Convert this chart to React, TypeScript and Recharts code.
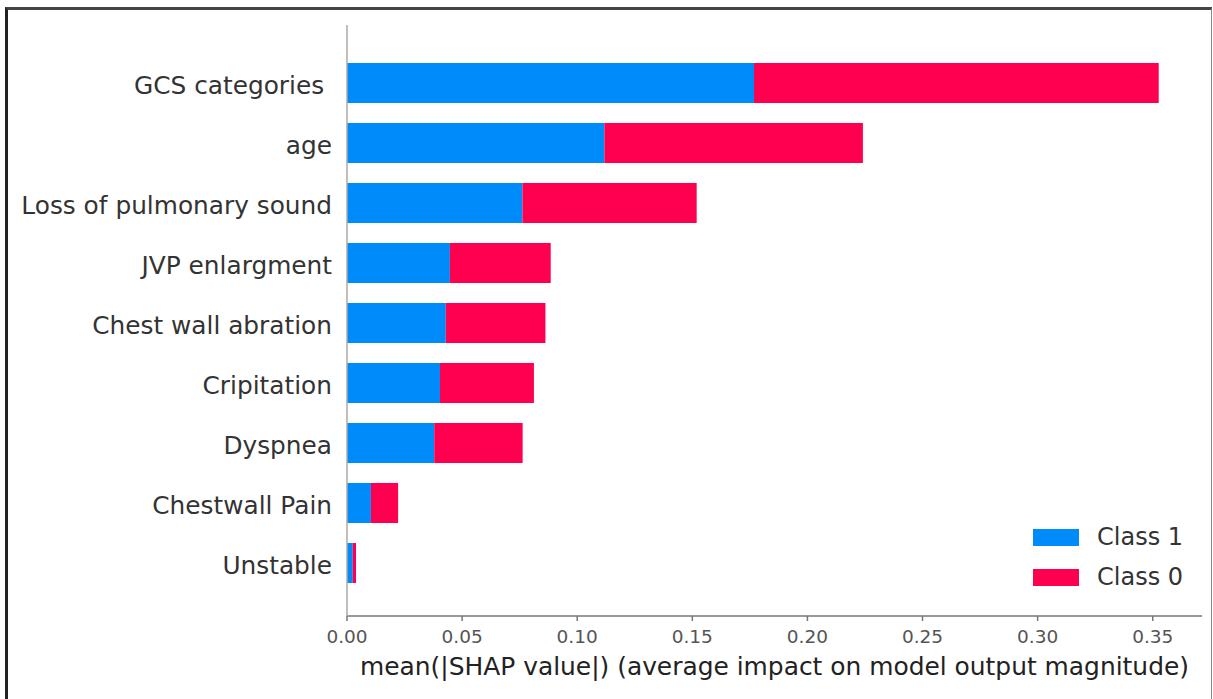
import React from "react";
import { BarChart, Bar, XAxis, YAxis, Legend } from "recharts";

const features = [
  "GCS categories ",
  "age",
  "Loss of pulmonary sound",
  "JVP enlargment",
  "Chest wall abration",
  "Cripitation",
  "Dyspnea",
  "Chestwall Pain",
  "Unstable",
];
const class1 = [0.1768, 0.1118, 0.0762, 0.0447, 0.0429, 0.0404, 0.0379, 0.0104, 0.0025];
const class0 = [0.1758, 0.1123, 0.0757, 0.0438, 0.0433, 0.0408, 0.0384, 0.0118, 0.0014];
const xTicks = [0, 0.05, 0.1, 0.15, 0.2, 0.25, 0.3, 0.35];
const xLabel = "mean(|SHAP value|) (average impact on model output magnitude)";
const legendOrder = ["c1", "c0"];

const data = features.map((f, i) => ({ feature: f, c1: class1[i], c0: class0[i] }));

const FONT = "'DejaVu Sans', sans-serif";

const YTick = (props: any) => {
  const { x, y, payload } = props;
  return (
    <text
      x={x}
      y={y}
      dy={11}
      textAnchor="end"
      fill="#333"
      fontSize={24.8}
      fontFamily={FONT}
      style={{ whiteSpace: "pre" }}
    >
      {payload.value}
    </text>
  );
};

const LegendContent = (props: any) => {
  const payload = [...(props.payload || [])].sort(
    (a: any, b: any) => legendOrder.indexOf(a.dataKey) - legendOrder.indexOf(b.dataKey)
  );
  return (
    <div style={{ fontFamily: FONT }}>
      {payload.map((p: any) => (
        <div key={p.value} style={{ display: "flex", alignItems: "center", height: 40 }}>
          <div style={{ width: 46, height: 17, background: p.color, marginRight: 18 }} />
          <span style={{ fontSize: 24, color: "#333", lineHeight: "40px" }}>{p.value}</span>
        </div>
      ))}
    </div>
  );
};

export default function App() {
  return (
    <div
      style={{
        position: "fixed",
        left: 0,
        top: 0,
        width: 1213,
        height: 699,
        overflow: "hidden",
        background: "#fff",
      }}
    >
      <div
        style={{
          position: "absolute",
          left: 5,
          top: 7,
          width: 1207,
          height: 720,
          boxSizing: "border-box",
          borderLeft: "3px solid #222",
          borderTop: "3px solid #444",
          borderRight: "1px solid #888",
        }}
      />
      <div style={{ position: "absolute", left: 0, top: 0 }}>
        <BarChart
          layout="vertical"
          width={1213}
          height={699}
          data={data}
          margin={{ top: 25, right: 11, left: 0, bottom: 0 }}
          barSize={40}
        >
          <XAxis
            type="number"
            domain={[0, 0.3714]}
            ticks={xTicks}
            allowDataOverflow
            tickFormatter={(v: number) => v.toFixed(2)}
            height={83}
            stroke="#777"
            strokeWidth={1.5}
            tickSize={5}
            tickMargin={9}
            tick={{ fontSize: 18.5, fill: "#555", fontFamily: FONT }}
            label={{
              value: xLabel,
              position: "insideBottom",
              offset: 24,
              fontSize: 24.9,
              fill: "#222",
              fontFamily: FONT,
            }}
          />
          <YAxis
            type="category"
            dataKey="feature"
            width={347}
            tickLine={false}
            axisLine={{ stroke: "#aaa", strokeWidth: 1.5 }}
            padding={{ top: 28, bottom: 23 }}
            tick={<YTick />}
            tickMargin={9}
            interval={0}
          />
          <Legend
            layout="vertical"
            align="center"
            verticalAlign="middle"
            content={<LegendContent />}
            wrapperStyle={{ left: 1033, top: 517, width: 170, height: 80, bottom: "auto", right: "auto" }}
          />
          <Bar dataKey="c1" name="Class 1" stackId="a" fill="#008bfb" isAnimationActive={false} />
          <Bar dataKey="c0" name="Class 0" stackId="a" fill="#ff0051" isAnimationActive={false} />
        </BarChart>
      </div>
    </div>
  );
}
